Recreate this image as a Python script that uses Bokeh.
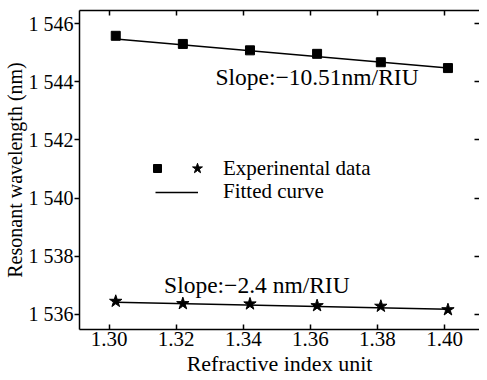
from bokeh.plotting import figure
from bokeh.models import (LinearAxis, FixedTicker, Range1d, Label, Legend, LegendItem)
from bokeh.embed import file_html
from bokeh.resources import INLINE

# ---- data ----
ri = [1.302, 1.322, 1.342, 1.362, 1.381, 1.401]
wl_high = [1545.58, 1545.30, 1545.08, 1544.96, 1544.67, 1544.47]
wl_low = [1536.45, 1536.37, 1536.36, 1536.30, 1536.28, 1536.16]
fit_x = [1.302, 1.401]
fit_high = [1545.47, 1544.47]
fit_low = [1536.42, 1536.18]
x_ticks = [1.30, 1.32, 1.34, 1.36, 1.38, 1.40]
x_tick_labels = ["1.30", "1.32", "1.34", "1.36", "1.38", "1.40"]
y_ticks = [1536, 1538, 1540, 1542, 1544, 1546]
y_tick_labels = ["1 536", "1 538", "1 540", "1 542", "1 544", "1 546"]
slope_high_text = "Slope:\u221210.51nm/RIU"
slope_low_text = "Slope:\u22122.4 nm/RIU"
legend_data_text = "Experinental data"
legend_fit_text = "Fitted curve"
x_label = "Refractive index unit"
y_label = "Resonant wavelength (nm)"

FONT = "Liberation Serif"

p = figure(width=479, height=378, output_backend="svg", toolbar_location=None,
           x_range=Range1d(1.2912, 1.4104), y_range=Range1d(1535.48, 1546.45),
           min_border_left=72, min_border_right=0, min_border_top=10, min_border_bottom=0)
p.xgrid.visible = False
p.ygrid.visible = False
p.outline_line_color = None
p.background_fill_color = "white"
p.border_fill_color = "white"

xa = p.xaxis[0]
xa.ticker = FixedTicker(ticks=x_ticks)
xa.major_label_overrides = {t: l for t, l in zip(x_ticks, x_tick_labels)}
xa.major_tick_in = 5
xa.major_tick_out = 0
xa.major_label_standoff = 2
xa.axis_label = x_label
xa.axis_label_standoff = 2
xa.major_label_text_font_size = "21px"
xa.axis_label_text_font_size = "22px"

ya = p.yaxis[0]
ya.ticker = FixedTicker(ticks=y_ticks)
ya.major_label_overrides = {t: l for t, l in zip(y_ticks, y_tick_labels)}
ya.major_tick_in = 0
ya.major_tick_out = 5
ya.major_label_standoff = 1
ya.axis_label = y_label
ya.axis_label_standoff = 0
ya.major_label_text_font_size = "20px"
ya.axis_label_text_font_size = "20px"

for ax in [xa, ya]:
    ax.minor_tick_line_color = None
    ax.axis_line_width = 1.5
    ax.axis_line_color = "black"
    ax.major_tick_line_width = 1.5
    ax.major_tick_line_color = "black"
    ax.major_label_text_font = FONT
    ax.major_label_text_color = "black"
    ax.axis_label_text_font = FONT
    ax.axis_label_text_font_style = "normal"
    ax.axis_label_text_color = "black"

# top and right axes: inward ticks, empty labels
ta = LinearAxis(ticker=FixedTicker(ticks=x_ticks),
                major_label_overrides={t: "" for t in x_ticks},
                major_label_standoff=0, major_tick_in=5, major_tick_out=0,
                minor_tick_line_color=None, axis_line_width=1.5, major_tick_line_width=1.5)
p.add_layout(ta, "above")
ra = LinearAxis(ticker=FixedTicker(ticks=y_ticks),
                major_label_overrides={t: "" for t in y_ticks},
                major_label_standoff=0, major_tick_in=5, major_tick_out=0,
                minor_tick_line_color=None, axis_line_color=None, major_tick_line_width=1.5)
p.add_layout(ra, "right")

line_r = p.line(fit_x, fit_high, line_color="black", line_width=1.5)
p.line(fit_x, fit_low, line_color="black", line_width=1.5)
sq_r = p.scatter(ri, wl_high, marker="square", size=9, fill_color="black", line_color="black")
st_r = p.scatter(ri, wl_low, marker="star", size=13, fill_color="black", line_color="black")

p.add_layout(Label(x=1.3317, y=1544.15, text=slope_high_text, text_font=FONT,
                   text_font_size="23.5px", text_baseline="middle", text_color="black"))
p.add_layout(Label(x=1.3164, y=1537.02, text=slope_low_text, text_font=FONT,
                   text_font_size="23.5px", text_baseline="middle", text_color="black"))

def mk_legend(items, loc, gw, gh, standoff):
    return Legend(items=items, location=loc, glyph_width=gw, glyph_height=gh,
                  label_height=gh, label_standoff=standoff, padding=0, margin=0, spacing=0,
                  border_line_color=None, background_fill_alpha=0,
                  label_text_font=FONT, label_text_font_size="21px", label_text_color="black")

p.add_layout(mk_legend([LegendItem(label="", renderers=[sq_r])], (68, 149), 20, 24, 0), "center")
p.add_layout(mk_legend([LegendItem(label=legend_data_text, renderers=[st_r])], (105, 148), 26, 26, 13), "center")
p.add_layout(mk_legend([LegendItem(label=legend_fit_text, renderers=[line_r])], (76, 125), 43, 24, 25), "center")

open("out.html", "w").write(file_html(p, INLINE))
